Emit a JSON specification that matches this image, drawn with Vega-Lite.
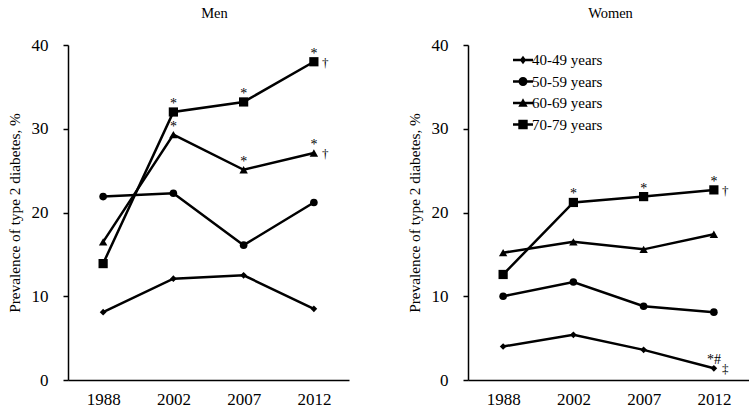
{
  "$schema": "https://vega.github.io/schema/vega-lite/v6.json",
  "padding": {"left": 7, "top": 5, "right": 0, "bottom": 0},
  "background": "white",
  "config": {
    "view": {"stroke": null},
    "font": "Liberation Serif",
    "axis": {"labelFont": "Liberation Serif", "titleFont": "Liberation Serif", "labelColor": "black", "titleColor": "black", "domainColor": "black", "tickColor": "black", "grid": false, "domainWidth": 1.5, "tickWidth": 1.5},
    "title": {"font": "Liberation Serif", "fontSize": 14.5, "fontWeight": "normal", "color": "black"},
    "legend": {"labelFont": "Liberation Serif"}
  },
  "datasets": {
    "prev": [
      {"sex": "Men", "age": "40-49 years", "year": "1988", "value": 8.1, "top": "", "right": ""},
      {"sex": "Men", "age": "40-49 years", "year": "2002", "value": 12.1, "top": "", "right": ""},
      {"sex": "Men", "age": "40-49 years", "year": "2007", "value": 12.5, "top": "", "right": ""},
      {"sex": "Men", "age": "40-49 years", "year": "2012", "value": 8.5, "top": "", "right": ""},
      {"sex": "Men", "age": "50-59 years", "year": "1988", "value": 21.9, "top": "", "right": ""},
      {"sex": "Men", "age": "50-59 years", "year": "2002", "value": 22.3, "top": "", "right": ""},
      {"sex": "Men", "age": "50-59 years", "year": "2007", "value": 16.1, "top": "", "right": ""},
      {"sex": "Men", "age": "50-59 years", "year": "2012", "value": 21.2, "top": "", "right": ""},
      {"sex": "Men", "age": "60-69 years", "year": "1988", "value": 16.5, "top": "", "right": ""},
      {"sex": "Men", "age": "60-69 years", "year": "2002", "value": 29.3, "top": "*", "right": ""},
      {"sex": "Men", "age": "60-69 years", "year": "2007", "value": 25.1, "top": "*", "right": ""},
      {"sex": "Men", "age": "60-69 years", "year": "2012", "value": 27.1, "top": "*", "right": "†"},
      {"sex": "Men", "age": "70-79 years", "year": "1988", "value": 13.9, "top": "", "right": ""},
      {"sex": "Men", "age": "70-79 years", "year": "2002", "value": 32.0, "top": "*", "right": ""},
      {"sex": "Men", "age": "70-79 years", "year": "2007", "value": 33.2, "top": "*", "right": ""},
      {"sex": "Men", "age": "70-79 years", "year": "2012", "value": 38.0, "top": "*", "right": "†"},
      {"sex": "Women", "age": "40-49 years", "year": "1988", "value": 4.0, "top": "", "right": ""},
      {"sex": "Women", "age": "40-49 years", "year": "2002", "value": 5.4, "top": "", "right": ""},
      {"sex": "Women", "age": "40-49 years", "year": "2007", "value": 3.6, "top": "", "right": ""},
      {"sex": "Women", "age": "40-49 years", "year": "2012", "value": 1.4, "top": "*#", "right": "‡"},
      {"sex": "Women", "age": "50-59 years", "year": "1988", "value": 10.0, "top": "", "right": ""},
      {"sex": "Women", "age": "50-59 years", "year": "2002", "value": 11.7, "top": "", "right": ""},
      {"sex": "Women", "age": "50-59 years", "year": "2007", "value": 8.8, "top": "", "right": ""},
      {"sex": "Women", "age": "50-59 years", "year": "2012", "value": 8.1, "top": "", "right": ""},
      {"sex": "Women", "age": "60-69 years", "year": "1988", "value": 15.2, "top": "", "right": ""},
      {"sex": "Women", "age": "60-69 years", "year": "2002", "value": 16.5, "top": "", "right": ""},
      {"sex": "Women", "age": "60-69 years", "year": "2007", "value": 15.6, "top": "", "right": ""},
      {"sex": "Women", "age": "60-69 years", "year": "2012", "value": 17.4, "top": "", "right": ""},
      {"sex": "Women", "age": "70-79 years", "year": "1988", "value": 12.6, "top": "", "right": ""},
      {"sex": "Women", "age": "70-79 years", "year": "2002", "value": 21.2, "top": "*", "right": ""},
      {"sex": "Women", "age": "70-79 years", "year": "2007", "value": 21.9, "top": "*", "right": ""},
      {"sex": "Women", "age": "70-79 years", "year": "2012", "value": 22.7, "top": "*", "right": "†"}
    ]
  },
  "data": {"name": "prev"},
  "spacing": 58,
  "resolve": {"scale": {"shape": "independent", "size": "independent"}, "legend": {"shape": "independent"}},
  "hconcat": [
    {
      "width": 281,
      "height": 335,
      "title": {"text": "Men", "offset": 15, "dx": 6},
      "transform": [{"filter": "datum.sex === 'Men'"}],
      "encoding": {
        "x": {"field": "year", "type": "ordinal", "scale": {"type": "point", "padding": 0.5}, "axis": {"title": null, "labelAngle": 0, "labelFontSize": 17, "ticks": false, "labelPadding": 11}},
        "y": {"field": "value", "type": "quantitative", "scale": {"domain": [0, 40], "nice": false}, "axis": {"title": "Prevalence of type 2 diabetes, %", "titleFontSize": 15.3, "titleFontWeight": "normal", "values": [0, 10, 20, 30, 40], "labelFontSize": 17, "tickSize": 5, "labelPadding": 15, "titlePadding": 9}}
      },
      "layer": [
        {"mark": {"type": "line", "color": "black", "strokeWidth": 2.5}, "encoding": {"detail": {"field": "age"}}},
        {"mark": {"type": "point", "filled": true, "color": "black", "opacity": 1},
         "encoding": {
           "shape": {"field": "age", "type": "nominal", "scale": {"domain": ["40-49 years", "50-59 years", "60-69 years", "70-79 years"], "range": ["diamond", "circle", "triangle-up", "square"]}, "legend": null},
           "size": {"field": "age", "type": "nominal", "scale": {"domain": ["40-49 years", "50-59 years", "60-69 years", "70-79 years"], "range": [45, 85, 85, 105]}, "legend": null}
         }},
        {"transform": [{"filter": "datum.top !== ''"}], "mark": {"type": "text", "dy": -8, "fontSize": 14, "fill": "black", "color": "black"}, "encoding": {"text": {"field": "top"}}},
        {"transform": [{"filter": "datum.right !== ''"}], "mark": {"type": "text", "align": "left", "dx": 8, "dy": 1, "fontSize": 13, "fill": "black", "color": "black"}, "encoding": {"text": {"field": "right"}}}
      ]
    },
    {
      "width": 281,
      "height": 335,
      "title": {"text": "Women", "offset": 15, "dx": 2},
      "transform": [{"filter": "datum.sex === 'Women'"}],
      "resolve": {"scale": {"shape": "independent", "size": "independent"}, "legend": {"shape": "independent"}},
      "encoding": {
        "x": {"field": "year", "type": "ordinal", "scale": {"type": "point", "padding": 0.5}, "axis": {"title": null, "labelAngle": 0, "labelFontSize": 17, "ticks": false, "labelPadding": 11}},
        "y": {"field": "value", "type": "quantitative", "scale": {"domain": [0, 40], "nice": false}, "axis": {"title": "Prevalence of type 2 diabetes, %", "titleFontSize": 15.3, "titleFontWeight": "normal", "values": [0, 10, 20, 30, 40], "labelFontSize": 17, "tickSize": 5, "labelPadding": 15, "titlePadding": 9}}
      },
      "layer": [
        {"mark": {"type": "line", "color": "black", "strokeWidth": 2.5}, "encoding": {"detail": {"field": "age"}}},
        {"mark": {"type": "point", "filled": true, "color": "black", "opacity": 1},
         "encoding": {
           "shape": {"field": "age", "type": "nominal", "scale": {"domain": ["40-49 years", "50-59 years", "60-69 years", "70-79 years"], "range": ["diamond", "circle", "triangle-up", "square"]}, "legend": null},
           "size": {"field": "age", "type": "nominal", "scale": {"domain": ["40-49 years", "50-59 years", "60-69 years", "70-79 years"], "range": [45, 85, 85, 105]}, "legend": null}
         }},
        {"mark": {"type": "point", "filled": true, "color": "black", "size": 0},
         "encoding": {
           "shape": {"field": "age", "type": "nominal", "scale": {"domain": ["40-49 years", "50-59 years", "60-69 years", "70-79 years"], "range": [
             "M-1,-0.12L1,-0.12L1,0.12L-1,0.12ZM0,-0.42L0.32,0L0,0.42L-0.32,0Z",
             "M-1,-0.12L1,-0.12L1,0.12L-1,0.12ZM-0.45,0A0.45,0.45 0 1,1 0.45,0A0.45,0.45 0 1,1 -0.45,0Z",
             "M-1,-0.12L1,-0.12L1,0.12L-1,0.12ZM0,-0.47L0.47,0.37L-0.47,0.37Z",
             "M-1,-0.12L1,-0.12L1,0.12L-1,0.12ZM-0.47,-0.47L0.47,-0.47L0.47,0.47L-0.47,0.47Z"
           ]}, "legend": {"title": null, "orient": "none", "legendX": 44, "legendY": 4, "padding": 0, "symbolSize": 400, "symbolFillColor": "black", "symbolOpacity": 1, "labelFontSize": 15, "labelOffset": -2, "rowPadding": 2.5, "labelColor": "black",
             "encode": {"symbols": {"update": {"fill": {"value": "black"}, "fillOpacity": {"value": 1}, "opacity": {"value": 1}, "size": {"value": 400}}}}}}
         }},
        {"transform": [{"filter": "datum.top !== ''"}], "mark": {"type": "text", "dy": -8, "fontSize": 14, "fill": "black", "color": "black"}, "encoding": {"text": {"field": "top"}}},
        {"transform": [{"filter": "datum.right !== ''"}], "mark": {"type": "text", "align": "left", "dx": 8, "dy": 1, "fontSize": 13, "fill": "black", "color": "black"}, "encoding": {"text": {"field": "right"}}}
      ]
    }
  ]
}
